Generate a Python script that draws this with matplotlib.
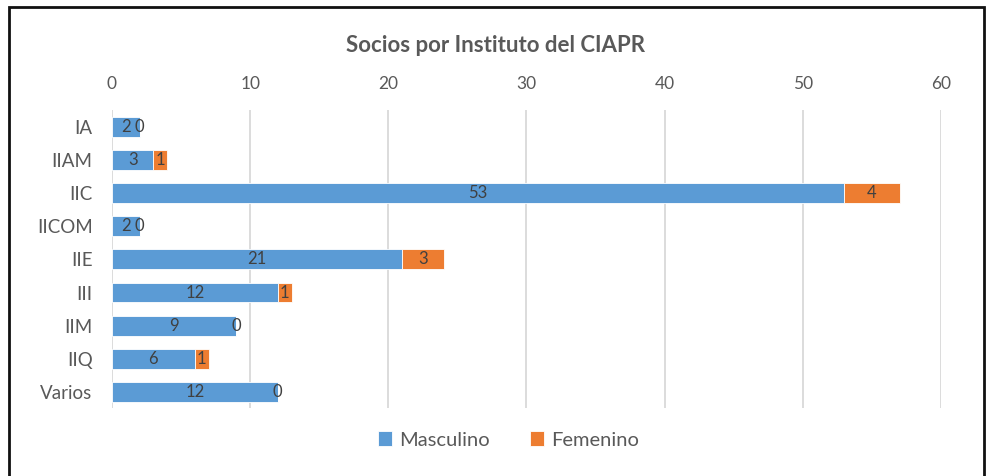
import matplotlib.pyplot as plt
from matplotlib.patches import Rectangle

institutos = ['IA', 'IIAM', 'IIC', 'IICOM', 'IIE', 'III', 'IIM', 'IIQ', 'Varios']
masculino = [2, 3, 53, 2, 21, 12, 9, 6, 12]
femenino = [0, 1, 4, 0, 3, 1, 0, 1, 0]
xticks = [0, 10, 20, 30, 40, 50, 60]

plt.rcParams['font.family'] = ['Lato', 'DejaVu Sans']
txt = '#595959'

fig = plt.figure(figsize=(9.9, 4.76), dpi=100)
ax = fig.add_axes([0.1131, 0.142, 0.8374, 0.626])

pos = list(range(len(institutos)))
b1 = ax.barh(pos, masculino, height=0.6, color='#5B9BD5', edgecolor='white',
             linewidth=0.6, label='Masculino', zorder=3)
b2 = ax.barh(pos, femenino, left=masculino, height=0.6, color='#ED7D31',
             edgecolor='white', linewidth=0.6, label='Femenino', zorder=3)

for bars in (b1, b2):
    for r in bars:
        cx = r.get_x() + r.get_width() / 2
        cy = r.get_y() + r.get_height() / 2
        ax.text(cx, cy, str(int(r.get_width())), ha='center', va='center',
                fontsize=12, color='#404040', zorder=4)

ax.set_xlim(0, 60)
ax.set_ylim(len(institutos) - 0.5, -0.5)
ax.set_yticks(pos)
ax.set_yticklabels(institutos, fontsize=13.5, color=txt)
ax.set_xticks(xticks)
ax.xaxis.tick_top()
ax.tick_params(axis='x', length=0, pad=13, labelsize=12.5, labelcolor=txt)
ax.tick_params(axis='y', length=0, pad=14)
ax.grid(axis='x', color='#D9D9D9', linewidth=1.3, zorder=0)
for s in ax.spines.values():
    s.set_visible(False)

fig.text(0.5, 1 - 46 / 476, 'Socios por Instituto del CIAPR',
         ha='center', va='center', fontsize=16, fontweight='bold', color=txt)

fig.legend(handles=[b1, b2], loc='center', bbox_to_anchor=(0.514, 1 - 440 / 476),
           ncol=2, frameon=False, fontsize=14.5, handlelength=0.7, handleheight=0.7,
           columnspacing=2.0, handletextpad=0.35, labelcolor=txt)

fig.patches.append(Rectangle((9 / 990, -0.05), 975 / 990, 1.05 - 7 / 476,
                             transform=fig.transFigure, fill=False,
                             edgecolor='#111111', linewidth=2))

fig.savefig('out.png', dpi=100)
